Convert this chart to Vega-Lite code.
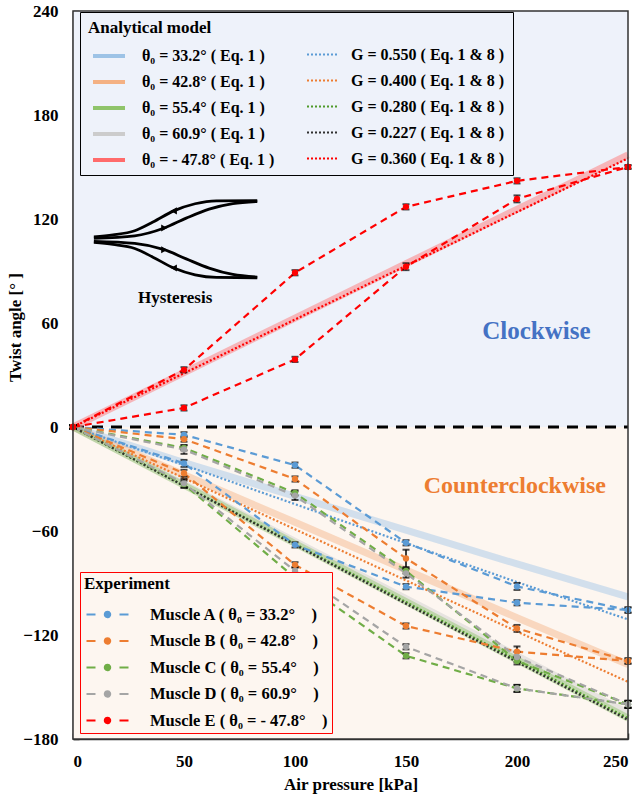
{
  "$schema": "https://vega.github.io/schema/vega-lite/v6.json",
  "width": 555,
  "height": 728,
  "autosize": {"type": "none"},
  "padding": {"left": 73, "top": 11, "right": 14, "bottom": 61},
  "background": "white",
  "config": {
    "view": {"stroke": null},
    "font": "Liberation Serif",
    "axis": {"domainColor": "#333", "domainWidth": 1.5, "tickColor": "#333", "tickWidth": 1.5, "tickSize": -6, "labelFont": "Liberation Serif", "labelFontWeight": "bold", "labelFontSize": 17, "labelColor": "black", "titleFont": "Liberation Serif", "titleFontWeight": "bold", "titleFontSize": 17, "titleColor": "black", "grid": false},
    "axisX": {"labelPadding": 20, "titlePadding": 7},
    "axisY": {"labelPadding": 21}
  },
  "resolve": {"scale": {"stroke": "independent"}},
  "datasets": {
    "bg": [
      {"region": "cw", "p": 0, "p2": 250, "v": 0, "v2": 240},
      {"region": "ccw", "p": 0, "p2": 250, "v": -180, "v2": 0}
    ],
    "zero": [{"p": 0, "p2": 250, "v": 0}],
    "frame": [{"p": 0, "p2": 250, "v": -180, "v2": 240}],
    "model": [
      {"kind": "band", "model": "θ₀ = 33.2°  ( Eq. 1 )", "p": 0, "v": 0},
      {"kind": "band", "model": "θ₀ = 33.2°  ( Eq. 1 )", "p": 50, "v": -20.5},
      {"kind": "band", "model": "θ₀ = 33.2°  ( Eq. 1 )", "p": 100, "v": -40},
      {"kind": "band", "model": "θ₀ = 33.2°  ( Eq. 1 )", "p": 150, "v": -59.5},
      {"kind": "band", "model": "θ₀ = 33.2°  ( Eq. 1 )", "p": 200, "v": -79},
      {"kind": "band", "model": "θ₀ = 33.2°  ( Eq. 1 )", "p": 250, "v": -98},
      {"kind": "band", "model": "θ₀ = 42.8°  ( Eq. 1 )", "p": 0, "v": 0},
      {"kind": "band", "model": "θ₀ = 42.8°  ( Eq. 1 )", "p": 50, "v": -27.5},
      {"kind": "band", "model": "θ₀ = 42.8°  ( Eq. 1 )", "p": 100, "v": -55},
      {"kind": "band", "model": "θ₀ = 42.8°  ( Eq. 1 )", "p": 150, "v": -82.5},
      {"kind": "band", "model": "θ₀ = 42.8°  ( Eq. 1 )", "p": 200, "v": -110},
      {"kind": "band", "model": "θ₀ = 42.8°  ( Eq. 1 )", "p": 250, "v": -137},
      {"kind": "band", "model": "θ₀ = 60.9°  ( Eq. 1 )", "p": 0, "v": 0},
      {"kind": "band", "model": "θ₀ = 60.9°  ( Eq. 1 )", "p": 50, "v": -33},
      {"kind": "band", "model": "θ₀ = 60.9°  ( Eq. 1 )", "p": 100, "v": -66},
      {"kind": "band", "model": "θ₀ = 60.9°  ( Eq. 1 )", "p": 150, "v": -99},
      {"kind": "band", "model": "θ₀ = 60.9°  ( Eq. 1 )", "p": 200, "v": -132},
      {"kind": "band", "model": "θ₀ = 60.9°  ( Eq. 1 )", "p": 250, "v": -165},
      {"kind": "band", "model": "θ₀ = 55.4°  ( Eq. 1 )", "p": 0, "v": 0},
      {"kind": "band", "model": "θ₀ = 55.4°  ( Eq. 1 )", "p": 50, "v": -33.6},
      {"kind": "band", "model": "θ₀ = 55.4°  ( Eq. 1 )", "p": 100, "v": -67.2},
      {"kind": "band", "model": "θ₀ = 55.4°  ( Eq. 1 )", "p": 150, "v": -100.8},
      {"kind": "band", "model": "θ₀ = 55.4°  ( Eq. 1 )", "p": 200, "v": -134.4},
      {"kind": "band", "model": "θ₀ = 55.4°  ( Eq. 1 )", "p": 250, "v": -168},
      {"kind": "band", "model": "θ₀ = - 47.8°  ( Eq. 1 )", "p": 0, "v": 0},
      {"kind": "band", "model": "θ₀ = - 47.8°  ( Eq. 1 )", "p": 50, "v": 31.4},
      {"kind": "band", "model": "θ₀ = - 47.8°  ( Eq. 1 )", "p": 100, "v": 62.8},
      {"kind": "band", "model": "θ₀ = - 47.8°  ( Eq. 1 )", "p": 150, "v": 94.2},
      {"kind": "band", "model": "θ₀ = - 47.8°  ( Eq. 1 )", "p": 200, "v": 125.6},
      {"kind": "band", "model": "θ₀ = - 47.8°  ( Eq. 1 )", "p": 250, "v": 157},
      {"kind": "dot", "model": "G = 0.550 ( Eq. 1 & 8 )", "p": 0, "v": 0},
      {"kind": "dot", "model": "G = 0.550 ( Eq. 1 & 8 )", "p": 50, "v": -22},
      {"kind": "dot", "model": "G = 0.550 ( Eq. 1 & 8 )", "p": 100, "v": -44.5},
      {"kind": "dot", "model": "G = 0.550 ( Eq. 1 & 8 )", "p": 150, "v": -67},
      {"kind": "dot", "model": "G = 0.550 ( Eq. 1 & 8 )", "p": 200, "v": -89.5},
      {"kind": "dot", "model": "G = 0.550 ( Eq. 1 & 8 )", "p": 250, "v": -111},
      {"kind": "dot", "model": "G = 0.400 ( Eq. 1 & 8 )", "p": 0, "v": 0},
      {"kind": "dot", "model": "G = 0.400 ( Eq. 1 & 8 )", "p": 50, "v": -29.5},
      {"kind": "dot", "model": "G = 0.400 ( Eq. 1 & 8 )", "p": 100, "v": -59},
      {"kind": "dot", "model": "G = 0.400 ( Eq. 1 & 8 )", "p": 150, "v": -88.5},
      {"kind": "dot", "model": "G = 0.400 ( Eq. 1 & 8 )", "p": 200, "v": -118},
      {"kind": "dot", "model": "G = 0.400 ( Eq. 1 & 8 )", "p": 250, "v": -147},
      {"kind": "dot", "model": "G = 0.280 ( Eq. 1 & 8 )", "p": 0, "v": 0},
      {"kind": "dot", "model": "G = 0.280 ( Eq. 1 & 8 )", "p": 50, "v": -33.8},
      {"kind": "dot", "model": "G = 0.280 ( Eq. 1 & 8 )", "p": 100, "v": -67.5},
      {"kind": "dot", "model": "G = 0.280 ( Eq. 1 & 8 )", "p": 150, "v": -101},
      {"kind": "dot", "model": "G = 0.280 ( Eq. 1 & 8 )", "p": 200, "v": -134.5},
      {"kind": "dot", "model": "G = 0.280 ( Eq. 1 & 8 )", "p": 250, "v": -168},
      {"kind": "dot", "model": "G = 0.227 ( Eq. 1 & 8 )", "p": 0, "v": 0},
      {"kind": "dot", "model": "G = 0.227 ( Eq. 1 & 8 )", "p": 50, "v": -34},
      {"kind": "dot", "model": "G = 0.227 ( Eq. 1 & 8 )", "p": 100, "v": -68},
      {"kind": "dot", "model": "G = 0.227 ( Eq. 1 & 8 )", "p": 150, "v": -102},
      {"kind": "dot", "model": "G = 0.227 ( Eq. 1 & 8 )", "p": 200, "v": -135.5},
      {"kind": "dot", "model": "G = 0.227 ( Eq. 1 & 8 )", "p": 250, "v": -169},
      {"kind": "dot", "model": "G = 0.360 ( Eq. 1 & 8 )", "p": 0, "v": 0},
      {"kind": "dot", "model": "G = 0.360 ( Eq. 1 & 8 )", "p": 50, "v": 31},
      {"kind": "dot", "model": "G = 0.360 ( Eq. 1 & 8 )", "p": 100, "v": 62},
      {"kind": "dot", "model": "G = 0.360 ( Eq. 1 & 8 )", "p": 150, "v": 93},
      {"kind": "dot", "model": "G = 0.360 ( Eq. 1 & 8 )", "p": 200, "v": 124},
      {"kind": "dot", "model": "G = 0.360 ( Eq. 1 & 8 )", "p": 250, "v": 155}
    ],
    "exp": [
      {"muscle": "Muscle A ( θ₀ = 33.2°\u00a0\u00a0\u00a0 )", "branch": "A1", "p": 0, "v": 0, "err": 1},
      {"muscle": "Muscle A ( θ₀ = 33.2°\u00a0\u00a0\u00a0 )", "branch": "A1", "p": 50, "v": -4.5, "err": 1.5},
      {"muscle": "Muscle A ( θ₀ = 33.2°\u00a0\u00a0\u00a0 )", "branch": "A1", "p": 100, "v": -22, "err": 1.5},
      {"muscle": "Muscle A ( θ₀ = 33.2°\u00a0\u00a0\u00a0 )", "branch": "A1", "p": 150, "v": -66.8, "err": 1.5},
      {"muscle": "Muscle A ( θ₀ = 33.2°\u00a0\u00a0\u00a0 )", "branch": "A1", "p": 200, "v": -92, "err": 2},
      {"muscle": "Muscle A ( θ₀ = 33.2°\u00a0\u00a0\u00a0 )", "branch": "A1", "p": 250, "v": -105.6, "err": 1.5},
      {"muscle": "Muscle A ( θ₀ = 33.2°\u00a0\u00a0\u00a0 )", "branch": "A2", "p": 0, "v": 0, "err": 1},
      {"muscle": "Muscle A ( θ₀ = 33.2°\u00a0\u00a0\u00a0 )", "branch": "A2", "p": 50, "v": -21, "err": 2},
      {"muscle": "Muscle A ( θ₀ = 33.2°\u00a0\u00a0\u00a0 )", "branch": "A2", "p": 100, "v": -68, "err": 1.5},
      {"muscle": "Muscle A ( θ₀ = 33.2°\u00a0\u00a0\u00a0 )", "branch": "A2", "p": 150, "v": -92.1, "err": 1.5},
      {"muscle": "Muscle A ( θ₀ = 33.2°\u00a0\u00a0\u00a0 )", "branch": "A2", "p": 200, "v": -101.4, "err": 1.5},
      {"muscle": "Muscle A ( θ₀ = 33.2°\u00a0\u00a0\u00a0 )", "branch": "A2", "p": 250, "v": -105.6, "err": 1.5},
      {"muscle": "Muscle B ( θ₀ = 42.8°\u00a0\u00a0\u00a0 )", "branch": "B1", "p": 0, "v": 0, "err": 1},
      {"muscle": "Muscle B ( θ₀ = 42.8°\u00a0\u00a0\u00a0 )", "branch": "B1", "p": 50, "v": -7, "err": 1.5},
      {"muscle": "Muscle B ( θ₀ = 42.8°\u00a0\u00a0\u00a0 )", "branch": "B1", "p": 100, "v": -30, "err": 1.5},
      {"muscle": "Muscle B ( θ₀ = 42.8°\u00a0\u00a0\u00a0 )", "branch": "B1", "p": 150, "v": -75.8, "err": 5},
      {"muscle": "Muscle B ( θ₀ = 42.8°\u00a0\u00a0\u00a0 )", "branch": "B1", "p": 200, "v": -116.2, "err": 2},
      {"muscle": "Muscle B ( θ₀ = 42.8°\u00a0\u00a0\u00a0 )", "branch": "B1", "p": 250, "v": -135, "err": 1.5},
      {"muscle": "Muscle B ( θ₀ = 42.8°\u00a0\u00a0\u00a0 )", "branch": "B2", "p": 0, "v": 0, "err": 1},
      {"muscle": "Muscle B ( θ₀ = 42.8°\u00a0\u00a0\u00a0 )", "branch": "B2", "p": 50, "v": -26.7, "err": 2},
      {"muscle": "Muscle B ( θ₀ = 42.8°\u00a0\u00a0\u00a0 )", "branch": "B2", "p": 100, "v": -79.5, "err": 1.5},
      {"muscle": "Muscle B ( θ₀ = 42.8°\u00a0\u00a0\u00a0 )", "branch": "B2", "p": 150, "v": -114.8, "err": 1.5},
      {"muscle": "Muscle B ( θ₀ = 42.8°\u00a0\u00a0\u00a0 )", "branch": "B2", "p": 200, "v": -129.6, "err": 3},
      {"muscle": "Muscle B ( θ₀ = 42.8°\u00a0\u00a0\u00a0 )", "branch": "B2", "p": 250, "v": -135, "err": 1.5},
      {"muscle": "Muscle C ( θ₀ = 55.4°\u00a0\u00a0\u00a0 )", "branch": "C1", "p": 0, "v": 0, "err": 1},
      {"muscle": "Muscle C ( θ₀ = 55.4°\u00a0\u00a0\u00a0 )", "branch": "C1", "p": 50, "v": -12, "err": 1.5},
      {"muscle": "Muscle C ( θ₀ = 55.4°\u00a0\u00a0\u00a0 )", "branch": "C1", "p": 100, "v": -38, "err": 1.5},
      {"muscle": "Muscle C ( θ₀ = 55.4°\u00a0\u00a0\u00a0 )", "branch": "C1", "p": 150, "v": -83, "err": 1.5},
      {"muscle": "Muscle C ( θ₀ = 55.4°\u00a0\u00a0\u00a0 )", "branch": "C1", "p": 200, "v": -135, "err": 2},
      {"muscle": "Muscle C ( θ₀ = 55.4°\u00a0\u00a0\u00a0 )", "branch": "C1", "p": 250, "v": -160, "err": 2},
      {"muscle": "Muscle C ( θ₀ = 55.4°\u00a0\u00a0\u00a0 )", "branch": "C2", "p": 0, "v": 0, "err": 1},
      {"muscle": "Muscle C ( θ₀ = 55.4°\u00a0\u00a0\u00a0 )", "branch": "C2", "p": 50, "v": -33, "err": 2},
      {"muscle": "Muscle C ( θ₀ = 55.4°\u00a0\u00a0\u00a0 )", "branch": "C2", "p": 100, "v": -87, "err": 1.5},
      {"muscle": "Muscle C ( θ₀ = 55.4°\u00a0\u00a0\u00a0 )", "branch": "C2", "p": 150, "v": -132, "err": 1.5},
      {"muscle": "Muscle C ( θ₀ = 55.4°\u00a0\u00a0\u00a0 )", "branch": "C2", "p": 200, "v": -150.8, "err": 2},
      {"muscle": "Muscle C ( θ₀ = 55.4°\u00a0\u00a0\u00a0 )", "branch": "C2", "p": 250, "v": -160, "err": 2},
      {"muscle": "Muscle D ( θ₀ = 60.9°\u00a0\u00a0\u00a0 )", "branch": "D1", "p": 0, "v": 0, "err": 1},
      {"muscle": "Muscle D ( θ₀ = 60.9°\u00a0\u00a0\u00a0 )", "branch": "D1", "p": 50, "v": -13, "err": 2.5},
      {"muscle": "Muscle D ( θ₀ = 60.9°\u00a0\u00a0\u00a0 )", "branch": "D1", "p": 100, "v": -39.6, "err": 2.5},
      {"muscle": "Muscle D ( θ₀ = 60.9°\u00a0\u00a0\u00a0 )", "branch": "D1", "p": 150, "v": -84.4, "err": 2.5},
      {"muscle": "Muscle D ( θ₀ = 60.9°\u00a0\u00a0\u00a0 )", "branch": "D1", "p": 200, "v": -132.7, "err": 3},
      {"muscle": "Muscle D ( θ₀ = 60.9°\u00a0\u00a0\u00a0 )", "branch": "D1", "p": 250, "v": -160, "err": 2},
      {"muscle": "Muscle D ( θ₀ = 60.9°\u00a0\u00a0\u00a0 )", "branch": "D2", "p": 0, "v": 0, "err": 1},
      {"muscle": "Muscle D ( θ₀ = 60.9°\u00a0\u00a0\u00a0 )", "branch": "D2", "p": 50, "v": -32.5, "err": 2.5},
      {"muscle": "Muscle D ( θ₀ = 60.9°\u00a0\u00a0\u00a0 )", "branch": "D2", "p": 100, "v": -83, "err": 2},
      {"muscle": "Muscle D ( θ₀ = 60.9°\u00a0\u00a0\u00a0 )", "branch": "D2", "p": 150, "v": -126.8, "err": 1.5},
      {"muscle": "Muscle D ( θ₀ = 60.9°\u00a0\u00a0\u00a0 )", "branch": "D2", "p": 200, "v": -150.8, "err": 2},
      {"muscle": "Muscle D ( θ₀ = 60.9°\u00a0\u00a0\u00a0 )", "branch": "D2", "p": 250, "v": -160, "err": 2},
      {"muscle": "Muscle E ( θ₀ = - 47.8°\u00a0\u00a0\u00a0 )", "branch": "E1", "p": 0, "v": 0, "err": 1},
      {"muscle": "Muscle E ( θ₀ = - 47.8°\u00a0\u00a0\u00a0 )", "branch": "E1", "p": 50, "v": 33, "err": 1.5},
      {"muscle": "Muscle E ( θ₀ = - 47.8°\u00a0\u00a0\u00a0 )", "branch": "E1", "p": 100, "v": 89, "err": 1.5},
      {"muscle": "Muscle E ( θ₀ = - 47.8°\u00a0\u00a0\u00a0 )", "branch": "E1", "p": 150, "v": 127, "err": 1.5},
      {"muscle": "Muscle E ( θ₀ = - 47.8°\u00a0\u00a0\u00a0 )", "branch": "E1", "p": 200, "v": 142, "err": 1.5},
      {"muscle": "Muscle E ( θ₀ = - 47.8°\u00a0\u00a0\u00a0 )", "branch": "E1", "p": 250, "v": 150, "err": 1},
      {"muscle": "Muscle E ( θ₀ = - 47.8°\u00a0\u00a0\u00a0 )", "branch": "E2", "p": 0, "v": 0, "err": 1},
      {"muscle": "Muscle E ( θ₀ = - 47.8°\u00a0\u00a0\u00a0 )", "branch": "E2", "p": 50, "v": 11, "err": 1.5},
      {"muscle": "Muscle E ( θ₀ = - 47.8°\u00a0\u00a0\u00a0 )", "branch": "E2", "p": 100, "v": 39, "err": 1.5},
      {"muscle": "Muscle E ( θ₀ = - 47.8°\u00a0\u00a0\u00a0 )", "branch": "E2", "p": 150, "v": 92.5, "err": 2},
      {"muscle": "Muscle E ( θ₀ = - 47.8°\u00a0\u00a0\u00a0 )", "branch": "E2", "p": 200, "v": 131.6, "err": 2},
      {"muscle": "Muscle E ( θ₀ = - 47.8°\u00a0\u00a0\u00a0 )", "branch": "E2", "p": 250, "v": 150, "err": 1}
    ],
    "icon": [
      {"curve": "u1", "p": 9.4, "v": 109.7}, {"curve": "u1", "p": 18, "v": 110.8}, {"curve": "u1", "p": 27.8, "v": 113.2}, {"curve": "u1", "p": 36, "v": 118.2}, {"curve": "u1", "p": 45.4, "v": 124.7}, {"curve": "u1", "p": 55, "v": 128.8}, {"curve": "u1", "p": 64.6, "v": 130.5}, {"curve": "u1", "p": 83, "v": 130.6},
      {"curve": "u2", "p": 9.4, "v": 108.9}, {"curve": "u2", "p": 27.8, "v": 110.3}, {"curve": "u2", "p": 41.1, "v": 114.8}, {"curve": "u2", "p": 51, "v": 120.5}, {"curve": "u2", "p": 61.3, "v": 125.7}, {"curve": "u2", "p": 72, "v": 128.9}, {"curve": "u2", "p": 83, "v": 130.1},
      {"curve": "l1", "p": 9.4, "v": 107.1}, {"curve": "l1", "p": 27.8, "v": 105.9}, {"curve": "l1", "p": 41.1, "v": 102.3}, {"curve": "l1", "p": 51, "v": 97}, {"curve": "l1", "p": 61.3, "v": 91.7}, {"curve": "l1", "p": 72, "v": 88}, {"curve": "l1", "p": 83, "v": 86.5},
      {"curve": "l2", "p": 9.4, "v": 106.5}, {"curve": "l2", "p": 18, "v": 105.3}, {"curve": "l2", "p": 27.8, "v": 103}, {"curve": "l2", "p": 36, "v": 98}, {"curve": "l2", "p": 45.4, "v": 91.7}, {"curve": "l2", "p": 55, "v": 87.8}, {"curve": "l2", "p": 64.6, "v": 86.3}, {"curve": "l2", "p": 83, "v": 86.1}
    ],
    "arrows": [
      {"dir": "left", "p": 45.4, "v": 124.7},
      {"dir": "right", "p": 41.1, "v": 114.8},
      {"dir": "right", "p": 41.1, "v": 102.3},
      {"dir": "left", "p": 45.4, "v": 91.7}
    ],
    "cw": [{"p": 208.7, "v": 55.4, "t": "Clockwise"}],
    "ccw": [{"p": 199, "v": -34, "t": "Counterclockwise"}],
    "hys": [{"p": 46, "v": 74.4, "t": "Hysteresis"}]
  },
  "encoding": {
    "x": {"field": "p", "type": "quantitative", "title": "Air pressure [kPa]", "scale": {"domain": [0, 250], "nice": false, "zero": false}, "axis": {"values": [0, 50, 100, 150, 200, 250]}},
    "y": {"field": "v", "type": "quantitative", "title": "Twist angle [°  ]", "scale": {"domain": [-180, 240], "nice": false, "zero": false}, "axis": {"values": [-180, -120, -60, 0, 60, 120, 180, 240], "titleX": -49, "titleY": 316}}
  },
  "layer": [
    {
      "data": {"name": "bg"},
      "mark": {"type": "rect"},
      "encoding": {
        "x2": {"field": "p2"},
        "y2": {"field": "v2"},
        "fill": {"field": "region", "type": "nominal", "scale": {"domain": ["cw", "ccw"], "range": ["#eef2fa", "#fdf6f0"]}, "legend": null}
      }
    },
    {
      "data": {"name": "zero"},
      "mark": {"type": "rule", "color": "black", "strokeWidth": 3, "strokeDash": [11, 8]},
      "encoding": {"x2": {"field": "p2"}}
    },
    {
      "data": {"name": "model"},
      "transform": [{"filter": "datum.kind === 'band'"}],
      "mark": {"type": "line", "strokeWidth": 7, "strokeOpacity": 0.45},
      "encoding": {
        "stroke": {
          "field": "model", "type": "nominal",
          "scale": {
            "domain": ["θ₀ = 33.2°  ( Eq. 1 )", "θ₀ = 42.8°  ( Eq. 1 )", "θ₀ = 55.4°  ( Eq. 1 )", "θ₀ = 60.9°  ( Eq. 1 )", "θ₀ = - 47.8°  ( Eq. 1 )"],
            "range": ["#9dc3e6", "#f4b183", "#8fc46a", "#cccccc", "#ff6b6b"]
          },
          "legend": {
            "title": null, "orient": "none", "legendX": 18, "legendY": 27,
            "symbolType": "stroke", "symbolSize": 1024, "symbolStrokeWidth": 4, "labelOffset": 15,
            "rowPadding": -6, "padding": 0,
            "labelFont": "Liberation Serif", "labelFontWeight": "bold", "labelFontSize": 16, "labelColor": "black", "labelLimit": 400
          }
        }
      }
    },
    {
      "data": {"name": "model"},
      "transform": [{"filter": "datum.kind === 'dot'"}],
      "mark": {"type": "line", "strokeWidth": 2.2, "strokeDash": [2, 2]},
      "encoding": {
        "stroke": {
          "field": "model", "type": "nominal",
          "scale": {
            "domain": ["G = 0.550 ( Eq. 1 & 8 )", "G = 0.400 ( Eq. 1 & 8 )", "G = 0.280 ( Eq. 1 & 8 )", "G = 0.227 ( Eq. 1 & 8 )", "G = 0.360 ( Eq. 1 & 8 )"],
            "range": ["#5b9bd5", "#ed7d31", "#4f9a2a", "#303030", "#ff0000"]
          },
          "legend": {
            "title": "Analytical model", "orient": "none", "legendX": 7, "legendY": 1,
            "symbolType": "stroke", "symbolSize": 1024, "symbolStrokeWidth": 2.2, "symbolDash": [2, 2],
            "symbolOffset": 217.5, "labelOffset": 10.5,
            "rowPadding": -6, "padding": 8,
            "strokeColor": "black",
            "labelFont": "Liberation Serif", "labelFontWeight": "bold", "labelFontSize": 16, "labelColor": "black", "labelLimit": 400,
            "titleFont": "Liberation Serif", "titleFontSize": 17, "titleFontWeight": "bold", "titleColor": "black", "titlePadding": 0
          }
        }
      }
    },
    {
      "data": {"name": "exp"},
      "mark": {"type": "line", "strokeWidth": 2.2, "strokeDash": [7, 5]},
      "encoding": {
        "color": {
          "field": "muscle", "type": "nominal",
          "scale": {"domain": ["Muscle A ( θ₀ = 33.2°\u00a0\u00a0\u00a0 )", "Muscle B ( θ₀ = 42.8°\u00a0\u00a0\u00a0 )", "Muscle C ( θ₀ = 55.4°\u00a0\u00a0\u00a0 )", "Muscle D ( θ₀ = 60.9°\u00a0\u00a0\u00a0 )", "Muscle E ( θ₀ = - 47.8°\u00a0\u00a0\u00a0 )"], "range": ["#5b9bd5", "#ed7d31", "#70ad47", "#a5a5a5", "#ff0000"]},
          "legend": {
            "title": "Experiment", "orient": "none", "legendX": 7, "legendY": 561,
            "symbolType": "M-2.1,0H-1.2M1.2,0H2.1M-0.26,0A0.26,0.26 0 1,1 0.26,0A0.26,0.26 0 1,1 -0.26,0M-0.1,0A0.1,0.1 0 1,1 0.1,0A0.1,0.1 0 1,1 -0.1,0",
            "symbolSize": 400, "symbolDash": [1, 0], "symbolStrokeWidth": 2.2, "symbolOffset": 12,
            "labelOffset": 31, "rowPadding": 6.5, "padding": 4,
            "strokeColor": "#ff0000", "fillColor": "#fdf6f0",
            "labelFont": "Liberation Serif", "labelFontWeight": "bold", "labelFontSize": 16.5, "labelColor": "black", "labelLimit": 400,
            "titleFont": "Liberation Serif", "titleFontSize": 17, "titleFontWeight": "bold", "titleColor": "black", "titlePadding": 10
          }
        },
        "detail": {"field": "branch", "type": "nominal"}
      }
    },
    {
      "data": {"name": "exp"},
      "mark": {"type": "errorbar", "color": "black", "ticks": {"size": 7, "thickness": 2, "color": "black"}, "rule": {"strokeWidth": 1.5, "color": "black"}},
      "encoding": {
        "yError": {"field": "err"}
      }
    },
    {
      "data": {"name": "exp"},
      "mark": {"type": "point", "filled": true, "size": 40, "opacity": 1},
      "encoding": {
        "color": {"field": "muscle", "type": "nominal"}
      }
    },
    {
      "data": {"name": "icon"},
      "mark": {"type": "line", "color": "black", "strokeWidth": 2.8, "interpolate": "monotone"},
      "encoding": {"detail": {"field": "curve", "type": "nominal"}}
    },
    {
      "data": {"name": "arrows"},
      "mark": {"type": "point", "filled": true, "color": "black", "size": 50, "opacity": 1},
      "encoding": {"shape": {"field": "dir", "type": "nominal", "scale": {"domain": ["left", "right"], "range": ["triangle-left", "triangle-right"]}, "legend": null}}
    },
    {
      "data": {"name": "hys"},
      "mark": {"type": "text", "font": "Liberation Serif", "fontWeight": "bold", "fontSize": 17, "color": "black"},
      "encoding": {"text": {"field": "t"}}
    },
    {
      "data": {"name": "cw"},
      "mark": {"type": "text", "font": "Liberation Serif", "fontWeight": "bold", "fontSize": 25, "color": "#4472c4"},
      "encoding": {"text": {"field": "t"}}
    },
    {
      "data": {"name": "ccw"},
      "mark": {"type": "text", "font": "Liberation Serif", "fontWeight": "bold", "fontSize": 24, "color": "#ed7d31"},
      "encoding": {"text": {"field": "t"}}
    },
    {
      "data": {"name": "frame"},
      "mark": {"type": "rect", "fill": "transparent", "stroke": "#333", "strokeWidth": 1.5},
      "encoding": {"x2": {"field": "p2"}, "y2": {"field": "v2"}}
    }
  ]
}
